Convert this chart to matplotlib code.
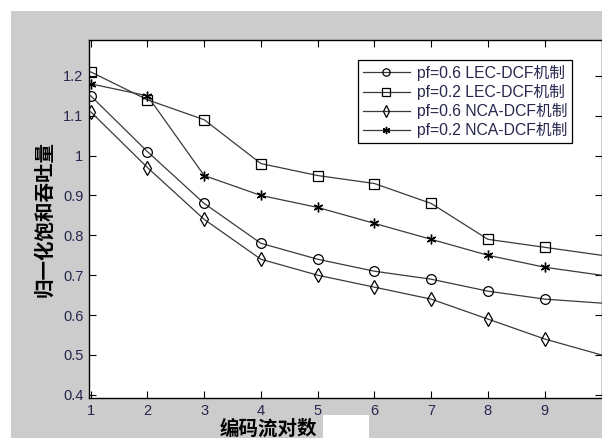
import matplotlib
matplotlib.use('Agg')
import matplotlib.pyplot as plt
from matplotlib.patches import Rectangle

plt.rcParams['font.family'] = ['Liberation Sans', 'Noto Sans CJK SC', 'DejaVu Sans']

# number of coded flow pairs
pairs = [1, 2, 3, 4, 5, 6, 7, 8, 9, 10]

lec_06 = [1.15, 1.01, 0.88, 0.78, 0.74, 0.71, 0.69, 0.66, 0.64, 0.63]
lec_02 = [1.21, 1.14, 1.09, 0.98, 0.95, 0.93, 0.88, 0.79, 0.77, 0.75]
nca_06 = [1.11, 0.97, 0.84, 0.74, 0.70, 0.67, 0.64, 0.59, 0.54, 0.50]
nca_02 = [1.18, 1.15, 0.95, 0.90, 0.87, 0.83, 0.79, 0.75, 0.72, 0.70]

labels = ['pf=0.6 LEC-DCF机制', 'pf=0.2 LEC-DCF机制',
          'pf=0.6 NCA-DCF机制', 'pf=0.2 NCA-DCF机制']

xticks = [1, 2, 3, 4, 5, 6, 7, 8, 9]
yticks = [0.4, 0.5, 0.6, 0.7, 0.8, 0.9, 1.0, 1.1, 1.2]
ytick_labels = ['0.4', '0.5', '0.6', '0.7', '0.8', '0.9', '1', '1.1', '1.2']

W, H = 602, 438
fig = plt.figure(figsize=(W / 100, H / 100), dpi=100, facecolor='white')

# gray matlab-like figure background
fig.patches.append(Rectangle((11 / W, 0), 1 - 11 / W, (H - 11) / H,
                             transform=fig.transFigure, facecolor='#cccccc',
                             edgecolor='none', zorder=-1))

ax = fig.add_axes([89 / W, 40 / H, 1 - 89 / W, 358 / H])
ax.set_facecolor('white')

lc = '#3a3a3a'
# last point sits just outside the cropped picture, so no marker there
mk = slice(0, 9)
ax.plot(pairs, lec_06, color=lc, lw=0.9, marker='o', ms=7, mfc='none', mec='black',
        mew=0.9, markevery=mk, label=labels[0])
ax.plot(pairs, lec_02, color=lc, lw=0.9, marker='s', ms=7.5, mfc='none', mec='black',
        mew=0.9, markevery=mk, label=labels[1])
ax.plot(pairs, nca_06, color=lc, lw=0.9, marker='d', ms=7.5, mfc='none', mec='black',
        mew=0.9, markevery=mk, label=labels[2])
ax.plot(pairs, nca_02, color=lc, lw=0.9, marker=(6, 2, 0), ms=7, mec='black',
        mew=1.0, markevery=mk, label=labels[3])

ax.set_xlim(0.97, 10.01)
ax.set_ylim(0.392, 1.29)
ax.set_xticks(xticks)
ax.set_xticklabels([str(t) for t in xticks])
ax.set_yticks(yticks)
ax.set_yticklabels(ytick_labels)

tc = '#26264e'
ax.tick_params(direction='in', length=5, width=0.8, top=True, right=True,
               labelsize=10.5, labelcolor=tc, pad=4)
for s in ax.spines.values():
    s.set_linewidth(1.0)
    s.set_color('black')

ax.set_ylabel('归一化饱和吞吐量', family=['Noto Sans CJK SC'], fontsize=14,
              fontweight='bold', labelpad=6)
fig.text(268 / W, 1 - 429 / H, '编码流对数', family=['Noto Sans CJK SC'],
         fontsize=14, fontweight='bold', ha='center', va='center')
# blanked-out part of the axis label
fig.patches.append(Rectangle((323 / W, 0), 46 / W, 23 / H, transform=fig.transFigure,
                             facecolor='white', edgecolor='none'))

leg = ax.legend(loc='upper right', bbox_to_anchor=(572 / W, 1 - 60 / H),
                bbox_transform=fig.transFigure, fancybox=False, framealpha=1,
                edgecolor='black', fontsize=11.3, handlelength=3.0,
                handletextpad=0.45, borderpad=0.3, labelspacing=0.2,
                borderaxespad=0, markerscale=0.75)
leg.get_frame().set_linewidth(0.9)
for t in leg.get_texts():
    t.set_color(tc)

fig.savefig('out.png', dpi=100)
